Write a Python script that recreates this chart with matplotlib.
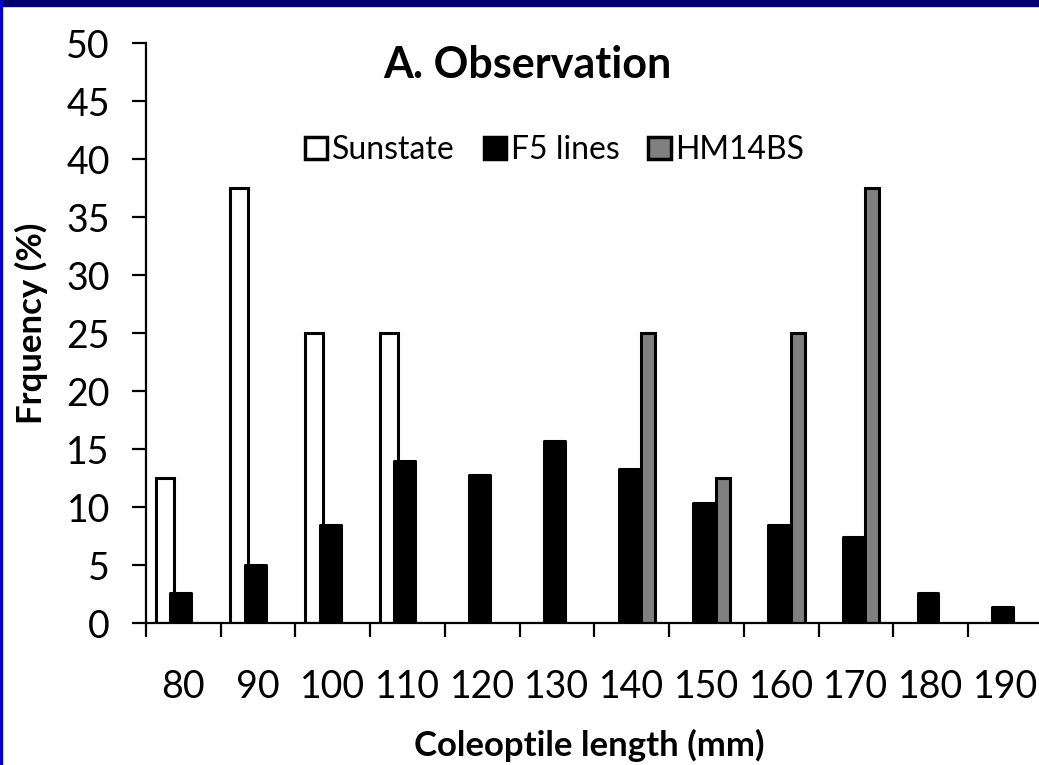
import matplotlib
matplotlib.use("Agg")
import matplotlib.pyplot as plt
from matplotlib.patches import Patch, Rectangle
import numpy as np

plt.rcParams['font.family'] = ['Lato', 'DejaVu Sans']

# coleoptile length classes (mm) and frequency (%) per group
lengths = ["80", "90", "100", "110", "120", "130", "140", "150", "160", "170", "180", "190"]
sunstate = [12.5, 37.5, 25, 25, 0, 0, 0, 0, 0, 0, 0, 0]
f5_lines = [2.6, 5.0, 8.5, 13.95, 12.8, 15.7, 13.3, 10.35, 8.5, 7.4, 2.6, 1.4]
hm14bs = [0, 0, 0, 0, 0, 0, 25, 12.5, 25, 37.5, 0, 0]

x = np.arange(len(lengths))

fig = plt.figure(figsize=(10.39, 7.65), dpi=100)
ax = fig.add_axes([146 / 1039, 1 - 623.3 / 765, 1 - 146 / 1039, (623.3 - 43.3) / 765])

lw = 2.2
# draw only non-zero bars, in series order so later ones sit on top
for xi, v in zip(x, sunstate):
    if v > 0:
        ax.bar(xi - 0.25, v, width=0.24, color="white", edgecolor="black",
               linewidth=lw, zorder=3)
for xi, v in zip(x, f5_lines):
    if v > 0:
        ax.bar(xi - 0.035, v, width=0.28, color="black", edgecolor="black",
               linewidth=lw, joinstyle="round", zorder=4)
for xi, v in zip(x, hm14bs):
    if v > 0:
        ax.bar(xi + 0.22, v, width=0.19, color="#808080", edgecolor="black",
               linewidth=lw, zorder=5)

ax.set_xlim(-0.5, 11.45)
ax.set_ylim(0, 50)

ax.spines["top"].set_visible(False)
ax.spines["right"].set_visible(False)
ax.spines["left"].set_linewidth(1.6)
ax.spines["bottom"].set_linewidth(1.6)
ax.spines["bottom"].set_zorder(6)

ax.set_yticks(np.arange(0, 51, 5))
ax.tick_params(axis="y", direction="out", length=10, width=1.6, pad=16, labelsize=27)

# tick marks between classes, labels at class centres
ax.set_xticks(np.arange(-0.5, 11, 1))
ax.set_xticklabels([])
ax.set_xticks(x, minor=True)
ax.set_xticklabels(lengths, minor=True)
ax.tick_params(axis="x", which="major", direction="out", length=10, width=1.6)
ax.tick_params(axis="x", which="minor", length=0, pad=33, labelsize=27)

ax.set_ylabel("Frquency (%)", fontsize=25, fontweight="bold", va="center")
ax.yaxis.set_label_coords(-0.128, 0.518)
ax.set_xlabel("Coleoptile length (mm)", fontsize=25, fontweight="bold", va="center")
ax.xaxis.set_label_coords(0.496, -0.21)

ax.text(4.6, 48.1, "A. Observation", fontsize=31, fontweight="bold",
        ha="center", va="center")

handles = [
    Patch(facecolor="white", edgecolor="black", linewidth=2.5, label="Sunstate"),
    Patch(facecolor="black", edgecolor="black", linewidth=2.5, label="F5 lines"),
    Patch(facecolor="#808080", edgecolor="black", linewidth=2.5, label="HM14BS"),
]
ax.legend(handles=handles, loc="center left", bbox_to_anchor=(0.16, 0.816),
          ncol=3, frameon=False, fontsize=23, handlelength=0.7, handleheight=0.7,
          handletextpad=0.15, columnspacing=0.9, borderpad=0)

# slide frame: navy bar on top, blue rule on the left
fig.patches.append(Rectangle((0, 1 - 6 / 765), 1, 6 / 765, transform=fig.transFigure,
                             color="#000070", zorder=10))
fig.patches.append(Rectangle((0, 0), 2 / 1039, 1, transform=fig.transFigure,
                             color="#0000dd", zorder=10))

fig.savefig("out.png", dpi=100)
